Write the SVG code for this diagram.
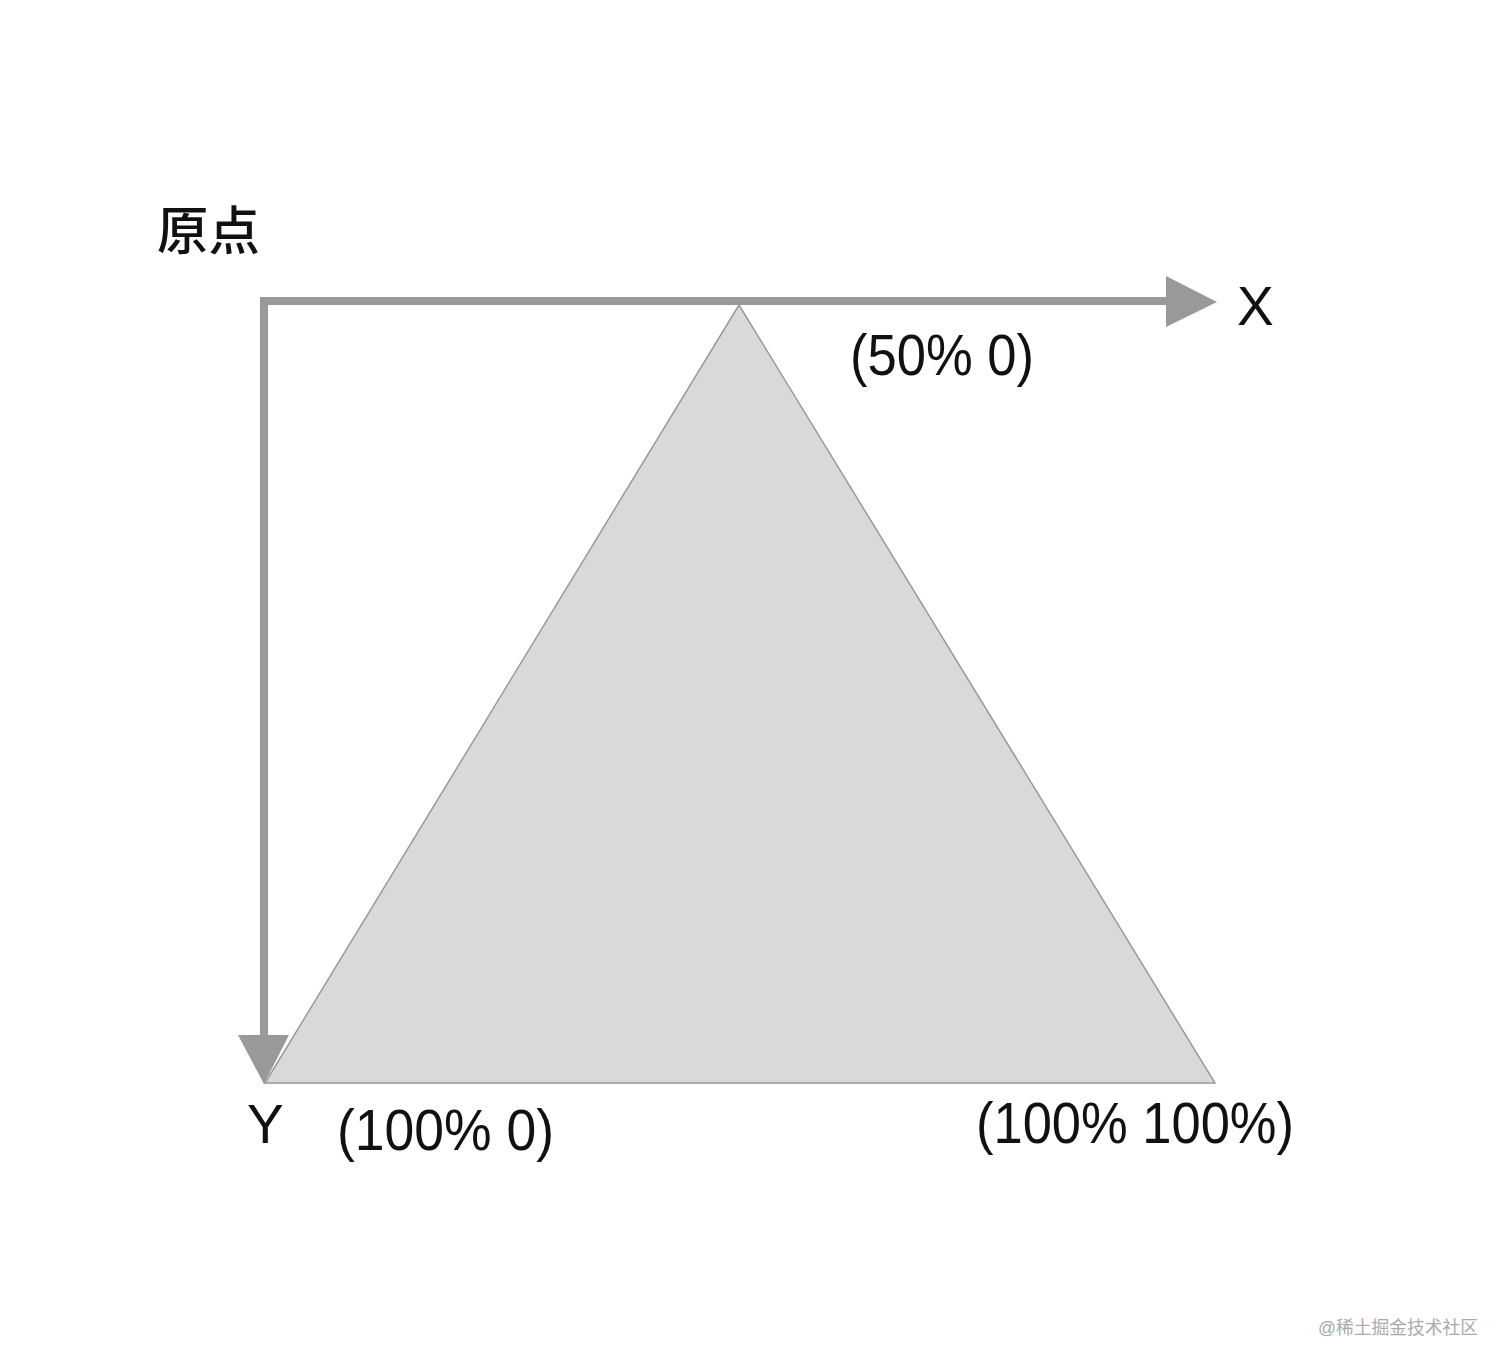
<svg xmlns="http://www.w3.org/2000/svg" width="1512" height="1370" viewBox="0 0 1512 1370">
  <style>
    .lbl { font-family: "Liberation Sans", "Noto Sans CJK SC", sans-serif; fill: #111; }
    .axis { stroke: #999; stroke-width: 8; fill: none; }
    .head { fill: #999; }
  </style>
  <rect width="1512" height="1370" fill="#fff"/>
  <g id="triangle">
    <polygon points="739,305 265,1083 1215,1083" fill="#d9d9d9" stroke="#999" stroke-width="1.5"/>
  </g>
  <g id="connectors">
    <polyline class="axis" points="1168,301 264,301 264,1036"/>
    <polygon class="head" points="1166,276 1217,302 1166,327"/>
    <polygon class="head" points="238,1035 289,1035 264,1084"/>
  </g>
  <g id="origin-label">
    <text class="lbl" x="157" y="250" font-size="52" font-weight="500" textLength="103" lengthAdjust="spacingAndGlyphs" fill="#000">原点</text>
  </g>
  <g id="x-label">
    <text class="lbl" x="1237" y="325" font-size="55">X</text>
  </g>
  <g id="y-label">
    <text class="lbl" x="247" y="1143" font-size="55">Y</text>
  </g>
  <g id="apex-label">
    <text class="lbl" x="850" y="375" font-size="57" textLength="184" lengthAdjust="spacingAndGlyphs">(50% 0)</text>
  </g>
  <g id="bottom-left-label">
    <text class="lbl" x="337" y="1150" font-size="57" textLength="217" lengthAdjust="spacingAndGlyphs">(100% 0)</text>
  </g>
  <g id="bottom-right-label">
    <text class="lbl" x="976" y="1143" font-size="57" textLength="318" lengthAdjust="spacingAndGlyphs">(100% 100%)</text>
  </g>
  <g id="watermark">
    <text x="1318" y="1334" font-size="18" fill="#aaa" font-family="'Liberation Sans', 'Noto Sans CJK SC', sans-serif" textLength="160" lengthAdjust="spacingAndGlyphs">@稀土掘金技术社区</text>
  </g>
</svg>
